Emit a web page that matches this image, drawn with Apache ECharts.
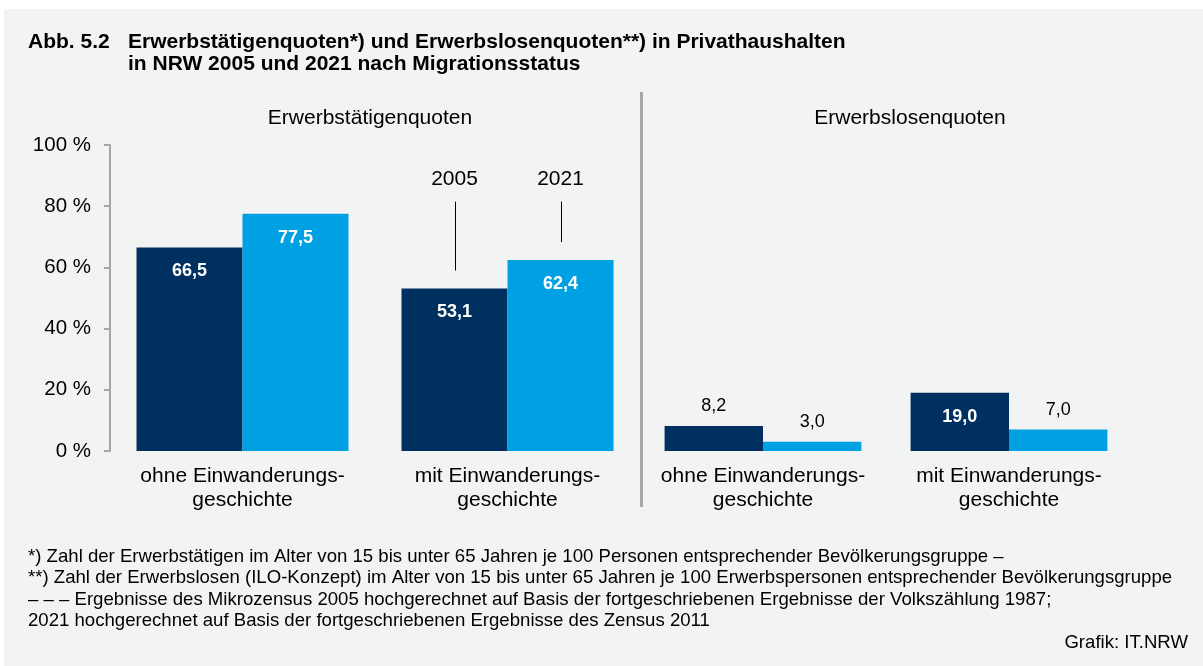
<!DOCTYPE html>
<html><head><meta charset="utf-8">
<script src="https://cdn.jsdelivr.net/npm/echarts@6/dist/echarts.min.js"></script>
<style>html,body{margin:0;padding:0;background:#fff}#c{width:1203px;height:666px}</style>
</head><body><div id="c"></div>
<script>
const categories = ['ohne Einwanderungs-\ngeschichte', 'mit Einwanderungs-\ngeschichte'];
const years = ['2005', '2021'];
const employed2005 = [66.5, 53.1];
const employed2021 = [77.5, 62.4];
const unemployed2005 = [8.2, 19.0];
const unemployed2021 = [3.0, 7.0];
const yTicks = [0, 20, 40, 60, 80, 100];
const panelTitles = ['Erwerbstätigenquoten', 'Erwerbslosenquoten'];
const titleNo = 'Abb. 5.2';
const titleLines = ['Erwerbstätigenquoten*) und Erwerbslosenquoten**) in Privathaushalten', 'in NRW 2005 und 2021 nach Migrationsstatus'];
const footnotes = [
  '*) Zahl der Erwerbstätigen im Alter von 15 bis unter 65 Jahren je 100 Personen entsprechender Bevölkerungsgruppe –',
  '**) Zahl der Erwerbslosen (ILO-Konzept) im Alter von 15 bis unter 65 Jahren je 100 Erwerbspersonen entsprechender Bevölkerungsgruppe',
  '– – – Ergebnisse des Mikrozensus 2005 hochgerechnet auf Basis der fortgeschriebenen Ergebnisse der Volkszählung 1987;',
  '2021 hochgerechnet auf Basis der fortgeschriebenen Ergebnisse des Zensus 2011'
];
const sourceText = 'Grafik: IT.NRW';

const FONT = '"Liberation Sans", Arial, Helvetica, sans-serif';
const DARK = '#00305f';
const LIGHT = '#00a1e2';
const BG = '#f2f3f3';
const AXIS = '#a6a6a6';

const fmt = v => v.toFixed(1).replace('.', ',');

function barData(values) {
  return values.map(v => {
    const inside = v >= 15;
    return {
      value: v,
      label: inside
        ? { show: true, position: 'insideTop', distance: 15, color: '#fff', fontWeight: 'bold', fontSize: 18, fontFamily: FONT, formatter: p => fmt(p.value) }
        : { show: true, position: 'top', distance: 11, color: '#000', fontWeight: 'normal', fontSize: 18, fontFamily: FONT, formatter: p => fmt(p.value) }
    };
  });
}

const chart = echarts.init(document.getElementById('c'), null, { renderer: 'canvas' });

const xAxisBase = {
  type: 'category',
  data: categories,
  axisLine: { show: false },
  axisTick: { show: false },
  axisLabel: { interval: 0, color: '#000', fontSize: 21, lineHeight: 24, fontFamily: FONT, margin: 13 }
};

const option = {
  backgroundColor: '#fff',
  animation: false,
  grid: [
    { left: 110, right: 563, top: 145, bottom: 215 },
    { left: 640, right: 71, top: 145, bottom: 215 }
  ],
  xAxis: [
    Object.assign({ gridIndex: 0 }, xAxisBase),
    Object.assign({ gridIndex: 1 }, xAxisBase)
  ],
  yAxis: [
    {
      gridIndex: 0, type: 'value', min: yTicks[0], max: yTicks[yTicks.length - 1], interval: yTicks[1] - yTicks[0],
      axisLine: { show: true, lineStyle: { color: AXIS, width: 2 } },
      axisTick: { show: true, length: 6, lineStyle: { color: AXIS, width: 2 } },
      axisLabel: { formatter: '{value} %', color: '#000', fontSize: 20.5, fontFamily: FONT, margin: 19 },
      splitLine: { show: false }
    },
    {
      gridIndex: 1, type: 'value', min: yTicks[0], max: yTicks[yTicks.length - 1], interval: yTicks[1] - yTicks[0],
      show: false, splitLine: { show: false }
    }
  ],
  series: [
    { name: years[0], type: 'bar', xAxisIndex: 0, yAxisIndex: 0, data: barData(employed2005), itemStyle: { color: DARK }, barGap: '0%', barCategoryGap: '20%' },
    { name: years[1], type: 'bar', xAxisIndex: 0, yAxisIndex: 0, data: barData(employed2021), itemStyle: { color: LIGHT }, barGap: '0%', barCategoryGap: '20%' },
    { name: years[0], type: 'bar', xAxisIndex: 1, yAxisIndex: 1, data: barData(unemployed2005), itemStyle: { color: DARK }, barGap: '0%', barCategoryGap: '20%' },
    { name: years[1], type: 'bar', xAxisIndex: 1, yAxisIndex: 1, data: barData(unemployed2021), itemStyle: { color: LIGHT }, barGap: '0%', barCategoryGap: '20%' }
  ]
};
chart.setOption(option);

// annotations computed from the library's scales
const c0 = chart.convertToPixel({ xAxisIndex: 0 }, 0);
const c1 = chart.convertToPixel({ xAxisIndex: 0 }, 1);
const band = c1 - c0;
const offset = band * 0.8 / 4; // half of one bar width (bar = 40% of band)
const annX = [c1 - offset, c1 + offset];
const annVals = [employed2005[1], employed2021[1]];
const lineTopY = chart.convertToPixel({ yAxisIndex: 0 }, 81.5);
const labelY = chart.convertToPixel({ yAxisIndex: 0 }, 88.8);

const elements = [
  { type: 'rect', z: -10, silent: true, shape: { x: 4, y: 9, width: 1199, height: 657 }, style: { fill: BG } },
  { type: 'text', style: { text: titleNo, x: 28, y: 42, font: 'bold 21px ' + FONT, fill: '#000', textAlign: 'left', textVerticalAlign: 'middle' } },
  { type: 'text', style: { text: titleLines[0], x: 128, y: 42, font: 'bold 21px ' + FONT, fill: '#000', textAlign: 'left', textVerticalAlign: 'middle' } },
  { type: 'text', style: { text: titleLines[1], x: 128, y: 64, font: 'bold 21px ' + FONT, fill: '#000', textAlign: 'left', textVerticalAlign: 'middle' } },
  { type: 'text', style: { text: panelTitles[0], x: 370, y: 118, font: '21px ' + FONT, fill: '#000', textAlign: 'center', textVerticalAlign: 'middle' } },
  { type: 'text', style: { text: panelTitles[1], x: 910, y: 118, font: '21px ' + FONT, fill: '#000', textAlign: 'center', textVerticalAlign: 'middle' } },
  { type: 'line', silent: true, shape: { x1: 641.5, y1: 92, x2: 641.5, y2: 507 }, style: { stroke: AXIS, lineWidth: 3 } }
];
annX.forEach((x, i) => {
  const barTop = chart.convertToPixel({ yAxisIndex: 0 }, annVals[i]);
  elements.push({ type: 'line', silent: true, shape: { x1: Math.round(x) + 0.5, y1: lineTopY, x2: Math.round(x) + 0.5, y2: barTop - 18 }, style: { stroke: '#000', lineWidth: 1 } });
  elements.push({ type: 'text', style: { text: years[i], x: x, y: labelY, font: '21px ' + FONT, fill: '#000', textAlign: 'center', textVerticalAlign: 'middle' } });
});
footnotes.forEach((t, i) => {
  elements.push({ type: 'text', style: { text: t, x: 28, y: 557 + i * 21.3, font: '18.6px ' + FONT, fill: '#000', textAlign: 'left', textVerticalAlign: 'middle' } });
});
elements.push({ type: 'text', style: { text: sourceText, x: 1188, y: 643, font: '18.6px ' + FONT, fill: '#000', textAlign: 'right', textVerticalAlign: 'middle' } });

chart.setOption({ graphic: { elements: elements } });
</script>
</body></html>
